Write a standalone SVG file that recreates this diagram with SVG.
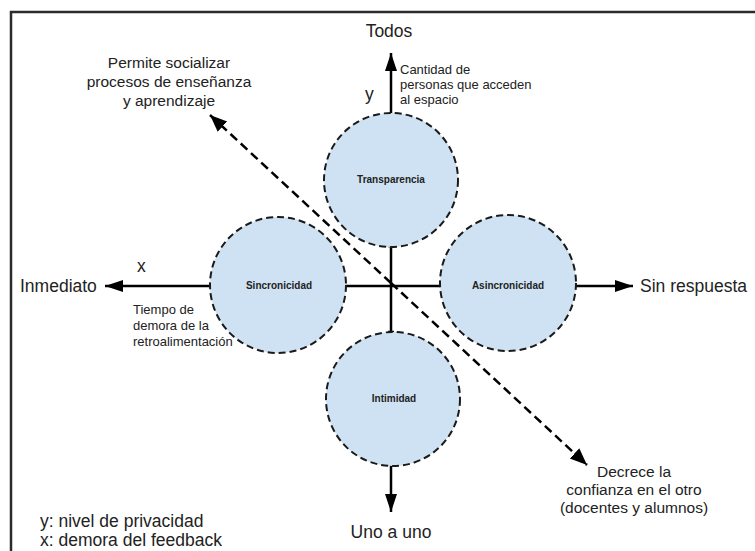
<svg xmlns="http://www.w3.org/2000/svg" width="755" height="551" viewBox="0 0 755 551">
<style>
  .frame{fill:#fff;stroke:#2b2b2b;stroke-width:2.5}
  .node circle{fill:#cfe2f3;stroke:#1a1a1a;stroke-width:2;stroke-dasharray:7 4}
  .node text{font-family:"Liberation Sans",Arial,sans-serif;font-weight:bold;font-size:10px;fill:#222;text-anchor:middle}
  .axis{stroke:#000;stroke-width:2.5;fill:none}
  .diag{stroke:#000;stroke-width:2.5;fill:none;stroke-dasharray:9 5}
  .lbl{font-family:"Liberation Sans",Arial,sans-serif;fill:#222}
  .big{font-size:17.5px}
  .mid{font-size:15.5px}
  .sm{font-size:13px}
</style>
<defs>
  <marker id="ah" markerUnits="userSpaceOnUse" markerWidth="18" markerHeight="14" refX="18" refY="7" orient="auto">
    <path d="M0,1 L18,7 L0,13 z" fill="#000"/>
  </marker>
  <marker id="dh" markerUnits="userSpaceOnUse" markerWidth="18" markerHeight="16" refX="17" refY="8" orient="auto">
    <path d="M0,1 L17,8 L0,15 z" fill="#000"/>
  </marker>
</defs>
<rect class="frame" x="11" y="12" width="760" height="560"/>
<g id="connectors">
  <line class="diag" x1="391" y1="283" x2="210" y2="115" marker-end="url(#dh)"/>
  <line class="diag" x1="391" y1="283" x2="587" y2="465" marker-end="url(#dh)"/>
  <line class="axis" x1="391" y1="113" x2="391" y2="53" marker-end="url(#ah)"/>
  <line class="axis" x1="391" y1="465" x2="391" y2="512" marker-end="url(#ah)"/>
  <line class="axis" x1="210" y1="286" x2="105" y2="286" marker-end="url(#ah)"/>
  <line class="axis" x1="576" y1="286" x2="633" y2="286" marker-end="url(#ah)"/>
  <line class="axis" x1="346" y1="286" x2="440" y2="286"/>
  <line class="axis" x1="391" y1="246" x2="391" y2="332"/>
  <line class="axis" stroke-width="1.5" x1="388" y1="246" x2="394" y2="246"/>
  <line class="axis" stroke-width="1.5" x1="388" y1="332" x2="394" y2="332"/>
</g>
<g id="transparencia" class="node">
  <circle cx="391" cy="180" r="67"/>
  <text x="391" y="183">Transparencia</text>
</g>
<g id="sincronicidad" class="node">
  <circle cx="278" cy="285" r="68"/>
  <text x="279" y="289">Sincronicidad</text>
</g>
<g id="asincronicidad" class="node">
  <circle cx="508" cy="283" r="68"/>
  <text x="508" y="289">Asincronicidad</text>
</g>
<g id="intimidad" class="node">
  <circle cx="393" cy="399" r="67"/>
  <text x="394" y="402">Intimidad</text>
</g>
<g id="labels">
  <text class="lbl big" x="389" y="37" text-anchor="middle">Todos</text>
  <text class="lbl big" x="391" y="538" text-anchor="middle">Uno a uno</text>
  <text class="lbl big" x="20" y="292">Inmediato</text>
  <text class="lbl big" x="640" y="292">Sin respuesta</text>
  <text class="lbl big" x="365" y="100">y</text>
  <text class="lbl big" x="137" y="272">x</text>
  <text class="lbl sm" x="400"><tspan x="400" y="74">Cantidad de</tspan><tspan x="400" y="89">personas que acceden</tspan><tspan x="400" y="104">al espacio</tspan></text>
  <text class="lbl sm" x="133"><tspan x="133" y="314">Tiempo de</tspan><tspan x="133" y="330">demora de la</tspan><tspan x="133" y="346">retroalimentación</tspan></text>
  <text class="lbl mid" text-anchor="middle"><tspan x="169" y="68">Permite socializar</tspan><tspan x="169" y="87">procesos de enseñanza</tspan><tspan x="169" y="106">y aprendizaje</tspan></text>
  <text class="lbl mid" text-anchor="middle"><tspan x="634" y="477">Decrece la</tspan><tspan x="634" y="495">confianza en el otro</tspan><tspan x="634" y="513">(docentes y alumnos)</tspan></text>
  <text class="lbl big"><tspan x="40" y="527">y: nivel de privacidad</tspan><tspan x="40" y="546">x: demora del feedback</tspan></text>
</g>
</svg>
